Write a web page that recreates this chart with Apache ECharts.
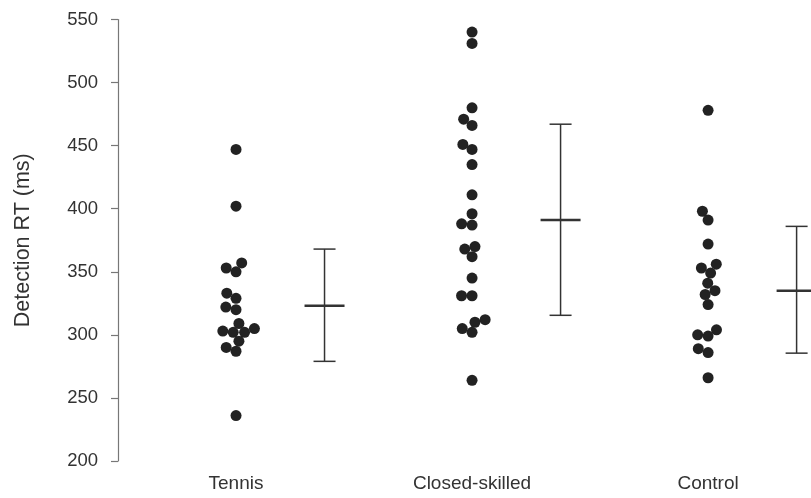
<!DOCTYPE html>
<html>
<head>
<meta charset="utf-8">
<script src="https://cdn.jsdelivr.net/npm/echarts@6/dist/echarts.min.js"></script>
<style>html,body{margin:0;padding:0;background:#fff;}#c{width:811px;height:498px;}</style>
</head>
<body>
<div id="c"></div>
<script>
// ---- data ----
var categories = ['Tennis', 'Closed-skilled', 'Control'];
var tennisRT = [447, 402, 357, 353, 350, 333, 329, 322, 320, 309, 305, 302, 302, 303, 295, 290, 287, 236];
var closedRT = [540, 531, 480, 471, 466, 451, 447, 435, 411, 396, 388, 387, 370, 368, 362, 345, 331, 331, 312, 310, 305, 302, 264];
var controlRT = [478, 398, 391, 372, 356, 353, 349, 341, 335, 332, 324, 304, 300, 299, 289, 286, 266];
var groupMean = [323, 391, 335];
var groupLower = [279, 315.5, 285.5];
var groupUpper = [368, 467, 386];
var yTicks = [200, 250, 300, 350, 400, 450, 500, 550];

var groups = [tennisRT, closedRT, controlRT];
var FONT = '"Liberation Sans", Arial, sans-serif';
var ERR_SHIFT = 0.375;   // error bar drawn to the right of each swarm
var DOT = 11;            // dot size in px
var SPACING = 10.5;      // swarm spacing in px

var chart = echarts.init(document.getElementById('c'), null, {renderer: 'canvas'});

var base = {
  animation: false,
  backgroundColor: '#ffffff',
  grid: {left: 118, right: 0, top: 19.5, bottom: 37, containLabel: false},
  xAxis: {
    type: 'value', min: -0.5, max: 2.436,
    axisLine: {show: false, onZero: false}, axisTick: {show: false}, splitLine: {show: false},
    axisLabel: {
      customValues: [0, 1, 2],
      formatter: function (v) { return categories[Math.round(v)] || ''; },
      color: '#333', fontFamily: FONT, fontSize: 19, margin: 13
    }
  },
  yAxis: {
    type: 'value', min: yTicks[0], max: yTicks[yTicks.length - 1], interval: 50,
    name: 'Detection RT (ms)', nameLocation: 'middle', nameGap: 84,
    nameTextStyle: {color: '#333', fontFamily: FONT, fontSize: 21.5},
    axisLine: {show: true, onZero: false, lineStyle: {color: '#777', width: 1.2}},
    axisTick: {show: true, inside: false, length: 7, lineStyle: {color: '#777', width: 1.2}},
    splitLine: {show: false},
    axisLabel: {color: '#333', fontFamily: FONT, fontSize: 18.5, margin: 20}
  },
  series: []
};
chart.setOption(base);

// beeswarm layout computed in pixel space through the axes' scales
var pxPerX = chart.convertToPixel({xAxisIndex: 0}, 1) - chart.convertToPixel({xAxisIndex: 0}, 0);
function swarm(values) {
  var idx = values.map(function (v, i) { return i; });
  var py = values.map(function (v) { return chart.convertToPixel({yAxisIndex: 0}, v); });
  idx.sort(function (a, b) { return py[b] - py[a]; }); // ascending value
  var placed = [];
  var off = new Array(values.length);
  idx.forEach(function (i) {
    var y = py[i];
    var cands = [0];
    placed.forEach(function (p) {
      var dy = Math.abs(y - p.y);
      if (dy < SPACING) {
        var dx = Math.sqrt(SPACING * SPACING - dy * dy);
        cands.push(p.x - dx, p.x + dx);
      }
    });
    cands.sort(function (a, b) { return Math.abs(a) - Math.abs(b) || a - b; });
    var chosen = 0;
    for (var k = 0; k < cands.length; k++) {
      var c = cands[k], ok = true;
      for (var j = 0; j < placed.length; j++) {
        var ddx = c - placed[j].x, ddy = y - placed[j].y;
        if (ddx * ddx + ddy * ddy < SPACING * SPACING - 1e-6) { ok = false; break; }
      }
      if (ok) { chosen = c; break; }
    }
    placed.push({x: chosen, y: y});
    off[i] = chosen;
  });
  return off;
}

var dots = [];
groups.forEach(function (vals, g) {
  var off = swarm(vals);
  vals.forEach(function (v, i) { dots.push([g + off[i] / pxPerX, v]); });
});

var errData = groupMean.map(function (m, g) { return [g + ERR_SHIFT, m, groupLower[g], groupUpper[g]]; });

chart.setOption({
  series: [
    {
      type: 'scatter', data: dots, symbol: 'circle', symbolSize: DOT,
      itemStyle: {color: '#222222', opacity: 1}, silent: true, z: 3
    },
    {
      type: 'custom', data: errData, clip: false, silent: true, z: 2,
      renderItem: function (params, api) {
        var x = api.value(0);
        var top = api.coord([x, api.value(3)]);
        var bot = api.coord([x, api.value(2)]);
        var mid = api.coord([x, api.value(1)]);
        var style = {stroke: '#333', lineWidth: 1.5};
        return {
          type: 'group',
          children: [
            {type: 'line', shape: {x1: top[0], y1: top[1], x2: bot[0], y2: bot[1]}, style: style},
            {type: 'line', shape: {x1: top[0] - 11, y1: top[1], x2: top[0] + 11, y2: top[1]}, style: style},
            {type: 'line', shape: {x1: bot[0] - 11, y1: bot[1], x2: bot[0] + 11, y2: bot[1]}, style: style},
            {type: 'line', shape: {x1: mid[0] - 20, y1: mid[1], x2: mid[0] + 20, y2: mid[1]}, style: {stroke: '#333', lineWidth: 2.5}}
          ]
        };
      }
    }
  ]
});
</script>
</body>
</html>
